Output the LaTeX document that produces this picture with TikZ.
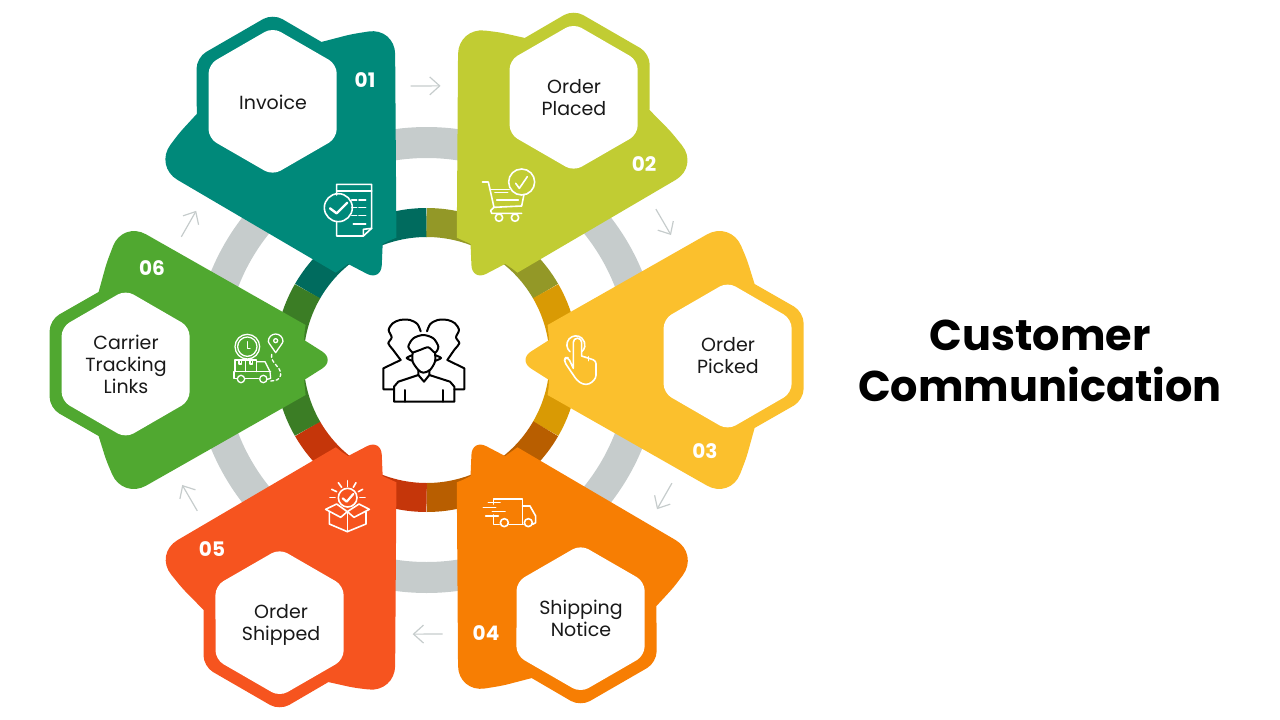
\documentclass[tikz,border=0pt]{standalone}
\usepackage{fontspec}
\setmainfont{Poppins}
\usetikzlibrary{arrows.meta}
\definecolor{tealc}{HTML}{00897A}
\definecolor{tealr}{HTML}{006B5E}
\definecolor{limec}{HTML}{C1CC33}
\definecolor{limer}{HTML}{939827}
\definecolor{yelc}{HTML}{FBC02D}
\definecolor{yelr}{HTML}{D99A04}
\definecolor{orac}{HTML}{F77E03}
\definecolor{orar}{HTML}{B85E00}
\definecolor{redc}{HTML}{F6541F}
\definecolor{redr}{HTML}{C5360A}
\definecolor{grnc}{HTML}{50A830}
\definecolor{grnr}{HTML}{3B7D25}
\definecolor{ringc}{HTML}{C6CCCC}
\newcommand{\petalshape}{(122,-28) -- (122.5,-20) [rounded corners=16] -- (91,0) [sharp corners] -- (122.5,20) -- (121,35) [rounded corners=27] -- (304,139) [rounded corners=6] -- (320.5,100) [sharp corners] -- (328,76) [rounded corners=11] -- (377,48) -- (377,-40) [sharp corners] -- (328,-68) [rounded corners=6] -- (320,-97) [rounded corners=27] -- (304,-139) [sharp corners] -- (121,-35) -- cycle}
\newcommand{\hexshape}{[rounded corners=9] (301,78) -- (365,41) -- (365,-33) -- (301,-70) -- (237,-33) -- (237,41) -- cycle}
\begin{document}
\begin{tikzpicture}[x=1pt, y=-1pt,
		ringseg/.style={line width=29pt},
		step label/.style={font=\fontsize{19}{22}\selectfont, text=black!90, align=center, inner sep=0pt},
		num/.style={font=\fontsize{20}{22}\selectfont\bfseries, text=white, inner sep=0pt},
		title/.style={font=\fontsize{43}{51}\selectfont\bfseries, text=black, align=center, inner sep=0pt},
		icon/.style={draw=white, line width=1.6pt, line join=round, line cap=round},
		people/.style={draw=black, line width=2pt, line join=round, line cap=round},
		flow/.style={draw=ringc, line width=1.2pt, -{Straight Barb[length=10pt,width=18pt]}}]
		\useasboundingbox (0,0) rectangle (1280,720);
		\begin{scope}[shift={(426.6,360)}, y=1pt]
			\draw[ringc, line width=31pt] (0,0) circle[radius=217.5];
			\foreach \ang/\col/\rcol/\i in {120/tealc/tealr/1,60/limec/limer/2,0/yelc/yelr/3,-60/orac/orar/4,-120/redc/redr/5,180/grnc/grnr/6} {
				\draw[ringseg, \rcol] (\ang-30:137.5) arc[start angle=\ang-30, delta angle=60, radius=137.5];
				\begin{scope}[rotate=\ang]
					\fill[\col] \petalshape;
					\fill[white] \hexshape;
				\end{scope}
				\coordinate (s\i) at (153.34-60*\i:274.5);
				\coordinate (e\i) at (147.08-60*\i:274.5);
				\path (s\i) edge[flow] (e\i);
			}
		\end{scope}
		\node[step label] (1) at (273,102) {Invoice};
		\node[step label] (2) at (574,98) {Order\\Placed};
		\node[step label] (3) at (728,356) {Order\\Picked};
		\node[step label] (4) at (581,618) {Shipping\\Notice};
		\node[step label] (5) at (281,625) {Order\\Shipped};
		\node[step label] (6) at (126,364.5) {Carrier\\Tracking\\Links};
		\node[num] (n1) at (365,80) {01};
		\node[num] (n2) at (644,164) {02};
		\node[num] (n3) at (705,451) {03};
		\node[num] (n4) at (486,633) {04};
		\node[num] (n5) at (212,549) {05};
		\node[num] (n6) at (152,268) {06};
		\node[title] (7) at (1040,360.5) {Customer\\Communication};
		\begin{scope}[shift={(160,0)}, scale=1/3, icon]
			\draw (530,585) -- (530,553) -- (635,553) -- (635,685) -- (610,708) -- (530,708) -- (530,665);
			\draw (530,573) -- (635,573);
			\draw (610,708) -- (610,688) -- (635,685);
			\draw (535,623) circle[radius=42];
			\draw[line width=2.4pt] (510,625) -- (530,640) -- (562,608);
			\foreach \yy in {600,623,647} {
				\draw (575,\yy) -- (590,\yy);
				\draw (597,\yy) -- (617,\yy);
			}
			\draw (580,672) -- (617,672);
		\end{scope}
		\begin{scope}[shift={(450,0)}, scale=1/3, icon]
			\draw (215,546) circle[radius=39];
			\draw (197,550) -- (208,565) -- (232,530);
			\draw (97,546) -- (115,546) -- (132,622) -- (122,632) -- (125,640) -- (215,640);
			\draw (120,568) -- (178,568);
			\draw (222,583) -- (215,618) -- (132,622);
			\draw (135,577) -- (173,577);
			\draw (140,600) -- (205,600);
			\draw (147,653) circle[radius=11];
			\draw (195,653) circle[radius=11];
		\end{scope}
		\begin{scope}[shift={(300,230)}, scale=1/3, icon]
			\draw (810,365) arc[start angle=131, delta angle=278, radius=27];
			\draw (820,415) -- (820,337) arc[start angle=180, delta angle=180, radius=12.5] -- (845,378) [rounded corners=3pt] -- (888,392) -- (888,445) -- (868,463) -- (848,463) -- (830,450) -- (793,395) -- (795,383) -- (805,383) -- (820,415);
			\draw (865,380) -- (865,392);
		\end{scope}
		\begin{scope}[shift={(450,430)}, scale=1/3, icon]
			\draw (130,222) -- (130,207) -- (217,207) -- (217,283) -- (177,283);
			\draw (130,255) -- (130,283) -- (148,283);
			\draw (217,228) -- (240,228) -- (257,258) -- (257,278) -- (248,283);
			\draw (217,283) -- (220,283);
			\draw (163,278) circle[radius=12];
			\draw (235,278) circle[radius=12];
			\draw (115,218) -- (150,218);
			\draw (100,233) -- (137,233);
			\draw (127,245) -- (165,245);
			\draw (107,258) -- (145,258);
		\end{scope}
		\begin{scope}[shift={(160,430)}, scale=1/3, icon]
			\draw (563,203) circle[radius=28];
			\draw[line width=2.2pt] (548,205) -- (560,215) -- (580,192);
			\draw (562,152) -- (562,170);
			\draw (535,158) -- (545,172);
			\draw (588,158) -- (580,172);
			\draw (515,178) -- (530,185);
			\draw (608,178) -- (595,185);
			\draw (510,203) -- (525,203);
			\draw (600,203) -- (615,203);
			\draw (508,245) -- (508,282) -- (562,305) -- (618,282) -- (618,245);
			\draw (562,305) -- (562,245);
			\draw (497,238) -- (530,222) -- (562,245) -- (597,222) -- (628,238) -- (582,262) -- (562,245) -- (542,262) -- cycle;
		\end{scope}
		\begin{scope}[shift={(40,220)}, scale=1/3, icon, line width=1.3pt]
			\draw (622,380) circle[radius=37];
			\draw (622,380) circle[radius=29];
			\draw (622,365) -- (622,385) -- (630,385);
			\draw (707,398) .. controls (695,380) and (685,368) .. (685,364) arc[start angle=180, end angle=360, radius=22] .. controls (729,368) and (719,380) .. (707,398) -- cycle;
			\draw (707,362) circle[radius=6];
			\draw[dash pattern=on 3pt off 2.5pt] (695,403) .. controls (690,430) and (725,440) .. (722,465) .. controls (720,480) and (705,483) .. (690,483);
			\draw (585,455) -- (585,420) -- (650,420) -- (650,455);
			\draw (617,420) -- (617,455);
			\draw (582,455) -- (692,455);
			\draw (650,425) -- (675,425) -- (690,455) -- (692,475) -- (682,478);
			\draw (582,455) -- (582,475) -- (590,475);
			\draw (615,475) -- (655,475);
			\draw (603,477) circle[radius=11];
			\draw (670,477) circle[radius=11];
			\draw (597,420) -- (597,432) -- (605,432) -- (605,420);
			\draw (630,420) -- (630,432) -- (638,432) -- (638,420);
		\end{scope}
		\begin{scope}[shift={(300,230)}, scale=1/3, people]
			\draw plot[smooth] coordinates {(302,390) (278,358) (265,340) (275,322) (266,300) (278,280) (300,270) (330,270) (352,282) (362,304)};
			\draw (302,390) -- (250,415) -- (250,478) -- (280,478);
			\draw plot[smooth] coordinates {(442,390) (464,358) (478,340) (468,322) (477,300) (465,280) (443,270) (413,270) (391,282) (381,304)};
			\draw (442,390) -- (493,415) -- (493,478) -- (463,478);
			\draw plot[smooth] coordinates {(338,368) (338,395) (355,420) (370,428) (390,420) (405,395) (405,368)};
			\draw plot[smooth] coordinates {(338,368) (325,350) (340,325) (370,315) (400,325) (415,350) (405,368) (385,352) (360,360) (338,368)};
			\draw plot[smooth] coordinates {(336,376) (320,384) (336,392)};
			\draw plot[smooth] coordinates {(407,376) (423,384) (407,392)};
			\draw (355,420) -- (355,435) -- (372,455) -- (388,435) -- (388,420);
			\draw (355,435) -- (295,455) -- (282,470) -- (282,515) -- (463,515) -- (463,470) -- (450,455) -- (388,435);
			\draw (316,480) -- (316,515);
			\draw (428,480) -- (428,515);
		\end{scope}
	\end{tikzpicture}
\end{document}
